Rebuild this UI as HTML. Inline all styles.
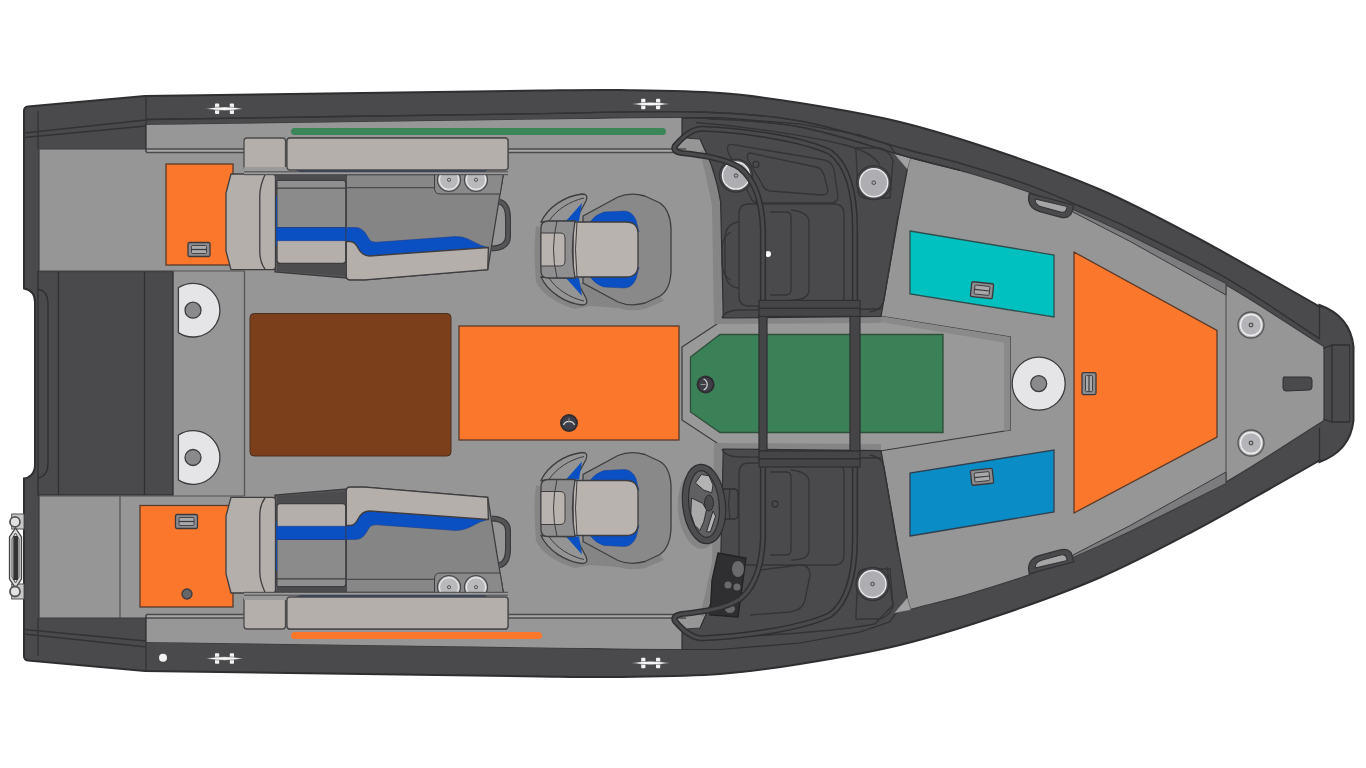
<!DOCTYPE html>
<html><head><meta charset="utf-8"><style>
html,body{margin:0;padding:0;background:#fff;width:1366px;height:768px;overflow:hidden;font-family:"Liberation Sans",sans-serif;}
svg{display:block}
</style></head><body><svg width="1366" height="768" viewBox="0 0 1366 768"><rect width="1366" height="768" fill="#fff"/><path d="M24,111 Q24,107 28,106.5 L145,96 C276.7,94.2 408.3,92.2 540.0,90.5 C566.7,90.2 593.3,89.6 620.0,90.0 C653.3,90.5 686.8,90.6 720.0,93.0 C746.8,94.9 773.5,98.7 800.0,103.0 C833.5,108.4 867.1,113.9 900.0,122.0 C933.8,130.3 967.0,140.9 1000.0,152.0 C1033.7,163.4 1067.4,175.4 1100.0,189.5 C1130.7,202.7 1160.4,218.4 1190.0,234.0 C1220.4,249.9 1250.1,267.2 1280.0,284.0 C1293.2,291.4 1306.3,299.0 1319.5,306.5 L1319.5,305 C1336,311 1351,323 1353.5,346.5 L1353.5,420.5 C1351,444 1336,456 1319.5,462 L1319.5,460.5 C1306.3,468.0 1293.2,475.6 1280.0,483.0 C1250.1,499.8 1220.4,517.1 1190.0,533.0 C1160.4,548.6 1130.7,564.3 1100.0,577.5 C1067.4,591.6 1033.7,603.6 1000.0,615.0 C967.0,626.1 933.8,636.7 900.0,645.0 C867.1,653.1 833.5,658.6 800.0,664.0 C773.5,668.3 746.8,672.1 720.0,674.0 C686.8,676.4 653.3,676.5 620.0,677.0 C593.3,677.4 566.7,676.8 540.0,676.5 C408.3,674.8 276.7,672.8 145.0,671.0 L28,660.5 Q24,660 24,656 L24,478.5 C29,478 35,474 35,465 L35,302 C35,293 29,289.5 24,288.5 Z" fill="#4a494c" stroke="#2f2e31" stroke-width="2"/>
<path d="M39,149 L146,149 L146,125 C277.3,123.2 408.7,121.2 540.0,119.5 C593.3,118.8 646.7,116.5 700.0,118.0 C733.4,119.0 767.2,120.8 800.0,127.0 C837.9,134.2 874.6,147.9 912.0,158.0 C927.9,162.3 944.1,165.8 960.0,170.4 C983.5,177.3 1007.1,184.0 1030.0,192.5 C1053.7,201.2 1076.7,212.0 1100.0,222.0 C1110.1,226.3 1120.2,230.7 1130.0,235.6 C1162.2,251.7 1194.8,267.1 1226.0,285.0 C1259.5,304.1 1291.3,326.1 1324.0,346.6 L1324,420.4 C1291.3,440.9 1259.5,462.9 1226.0,482.0 C1194.8,499.9 1162.2,515.3 1130.0,531.4 C1120.2,536.3 1110.1,540.7 1100.0,545.0 C1076.7,555.0 1053.7,565.8 1030.0,574.5 C1007.1,583.0 983.5,589.7 960.0,596.6 C944.1,601.2 927.9,604.7 912.0,609.0 C874.6,619.1 837.9,632.8 800.0,640.0 C767.2,646.2 733.4,648.0 700.0,649.0 C646.7,650.5 593.3,648.2 540.0,647.5 C408.7,645.8 277.3,643.8 146.0,642.0 L146,618 L39,618 Z" fill="#969696" stroke="#3a393c" stroke-width="1.2"/>
<path d="M146,125 L540,119.5 L682,118 L682,149 L146,149 Z" fill="#979797"/>
<path d="M146,642 L540,647.5 L682,649 L682,618 L146,618 Z" fill="#979797"/>
<rect x="146" y="149" width="540" height="3.5" fill="#a8a8a8"/><rect x="146" y="614.5" width="540" height="3.5" fill="#a8a8a8"/>
<line x1="146" y1="149" x2="686" y2="149" stroke="#4a494c" stroke-width="1.3"/>
<line x1="146" y1="152.5" x2="686" y2="152.5" stroke="#4a494c" stroke-width="1.3"/>
<line x1="146" y1="614.5" x2="686" y2="614.5" stroke="#4a494c" stroke-width="1.3"/>
<line x1="146" y1="618" x2="686" y2="618" stroke="#4a494c" stroke-width="1.3"/>
<path d="M24,133 L146,120 M24,137.5 L146,126 M38,111 L38,149 M24,634 L146,647 M24,629.5 L146,641 M38,656 L38,618" fill="none" stroke="#333235" stroke-width="1.3"/>
<line x1="146" y1="96" x2="146" y2="152" stroke="#333235" stroke-width="1.3"/>
<line x1="146" y1="671" x2="146" y2="615" stroke="#333235" stroke-width="1.3"/>
<rect x="38" y="271.5" width="135" height="223.5" fill="#4a494c" stroke="#2f2e31" stroke-width="1.3"/>
<path d="M58.5,271.5 V495 M144.5,271.5 V495" stroke="#2f2e31" stroke-width="1.3"/>
<path d="M38,289 Q48,291 48,303 L48,463 Q48,476 38,478" fill="none" stroke="#2f2e31" stroke-width="1.3"/>
<path d="M244.5,271 V496 M120,496 V618" stroke="#555457" stroke-width="1.3"/>
<path d="M39,271 H244.5 M39,496 H244.5" stroke="#555457" stroke-width="1"/>
<path d="M178.4,287.8 A26.8,26.8 0 1 1 178.4,332.59999999999997 Z" fill="#e5e5e7" stroke="#3d3c3f" stroke-width="1.3"/>
<circle cx="193" cy="310.2" r="8" fill="#8a8a8c" stroke="#3d3c3f" stroke-width="1.3"/>
<path d="M178.4,435.1 A26.8,26.8 0 1 1 178.4,479.9 Z" fill="#e5e5e7" stroke="#3d3c3f" stroke-width="1.3"/>
<circle cx="193" cy="457.5" r="8" fill="#8a8a8c" stroke="#3d3c3f" stroke-width="1.3"/>
<rect x="166" y="164" width="67" height="101" fill="#fb772b" stroke="#5a3a2a" stroke-width="1.3"/>
<rect x="140" y="505.5" width="93" height="101.5" fill="#fb772b" stroke="#5a3a2a" stroke-width="1.3"/>
<g transform="translate(199,249.5) rotate(0)"><rect x="-11.0" y="-7.0" width="22" height="14" rx="1.5" fill="#8c8c90" stroke="#3a393c" stroke-width="1.3"/><rect x="-7.5" y="-4.0" width="15" height="8" rx="1" fill="#a9a9ab" stroke="#3a393c" stroke-width="0.9"/><path d="M-7.5,0 H7.5" stroke="#3a393c" stroke-width="1.2"/></g>
<g transform="translate(186.5,521.5) rotate(0)"><rect x="-11.0" y="-7.0" width="22" height="14" rx="1.5" fill="#8c8c90" stroke="#3a393c" stroke-width="1.3"/><rect x="-7.5" y="-4.0" width="15" height="8" rx="1" fill="#a9a9ab" stroke="#3a393c" stroke-width="0.9"/><path d="M-7.5,0 H7.5" stroke="#3a393c" stroke-width="1.2"/></g>
<circle cx="187" cy="594" r="5" fill="#666568" stroke="#3d3c3f" stroke-width="1.3"/>
<rect x="291" y="128" width="375" height="7" rx="3.5" fill="#3c8559"/>
<rect x="291" y="632" width="251" height="7" rx="3.5" fill="#fb772b"/>
<rect x="250" y="313.5" width="201" height="142.5" rx="4" fill="#7b3f1c" stroke="#4a3020" stroke-width="1"/>
<rect x="459" y="326" width="220" height="114" fill="#fb772b" stroke="#5a3a2a" stroke-width="1.3"/>
<circle cx="569" cy="423" r="9" fill="#2e2d31"/><circle cx="569" cy="423" r="7" fill="#3f3f48"/><path d="M563.5,425 A6,6 0 0 1 574.5,425" fill="none" stroke="#d8d8d8" stroke-width="1.2"/><path d="M569,418 V423" stroke="#888" stroke-width="1"/>
<path d="M682.0,347.0 L724.5,319.0 L880.0,316.0 L1010.4,337.0 L1010.4,430.0 L880.0,451.0 L724.5,448.0 L682.0,420.0 Z" fill="#999999" stroke="#3a393c" stroke-width="1.2"/>
<path d="M880,316 L1010.4,337 L1010.4,430 L1004,431 L1004,342.5 L880,322 Z" fill="#8a8a8b"/>
<path d="M690.5,357.0 L720.0,334.5 L943.0,334.5 L943.0,432.5 L720.0,432.5 L690.5,412.0 Z" fill="#3b8157" stroke="#2f4f3a" stroke-width="1.3"/>
<circle cx="705.6" cy="384.5" r="9" fill="#2e2d31"/><circle cx="705.6" cy="384.5" r="7" fill="#3f3f48"/><path d="M703.6,379 A6,6 0 0 1 703.6,390" fill="none" stroke="#d8d8d8" stroke-width="1.2"/><path d="M700.6,384.5 H705.6" stroke="#999" stroke-width="1"/>
<path d="M910.0,231.0 L1054.0,255.0 L1054.0,317.0 L910.0,294.0 Z" fill="#00c1bf" stroke="#2f4f4f" stroke-width="1.3"/>
<path d="M910.0,536.0 L1054.0,512.0 L1054.0,450.0 L910.0,473.0 Z" fill="#0a8dc6" stroke="#2f3f4f" stroke-width="1.3"/>
<g transform="translate(982,290.2) rotate(6)"><rect x="-11.0" y="-7.5" width="22" height="15" rx="1.5" fill="#8c8c90" stroke="#3a393c" stroke-width="1.3"/><rect x="-7.5" y="-4.5" width="15" height="9" rx="1" fill="#a9a9ab" stroke="#3a393c" stroke-width="0.9"/><path d="M-7.5,0 H7.5" stroke="#3a393c" stroke-width="1.2"/></g>
<g transform="translate(982,476.8) rotate(-6)"><rect x="-11.0" y="-7.5" width="22" height="15" rx="1.5" fill="#8c8c90" stroke="#3a393c" stroke-width="1.3"/><rect x="-7.5" y="-4.5" width="15" height="9" rx="1" fill="#a9a9ab" stroke="#3a393c" stroke-width="0.9"/><path d="M-7.5,0 H7.5" stroke="#3a393c" stroke-width="1.2"/></g>
<path d="M1074.0,252.0 L1217.0,330.5 L1217.0,437.0 L1074.0,513.0 Z" fill="#fb772b" stroke="#5a3a2a" stroke-width="1.3"/>
<g transform="translate(1089,383.6) rotate(0)"><rect x="-7.0" y="-11.0" width="14" height="22" rx="1.5" fill="#8c8c90" stroke="#3a393c" stroke-width="1.3"/><rect x="-3.5" y="-8.0" width="7" height="16" rx="1" fill="#a9a9ab" stroke="#3a393c" stroke-width="0.9"/><path d="M0,-8.0 V8.0" stroke="#3a393c" stroke-width="1.2"/></g>
<circle cx="1038.7" cy="383.6" r="26.5" fill="#e5e5e7" stroke="#3d3c3f" stroke-width="1.3"/><circle cx="1038.7" cy="383.6" r="8" fill="#8a8a8c" stroke="#3d3c3f" stroke-width="1.3"/>
<line x1="1226" y1="286" x2="1226" y2="481" stroke="#555457" stroke-width="1.2"/>
<circle cx="1251" cy="325" r="13" fill="#b5b5b9" stroke="#555" stroke-width="1.3"/><circle cx="1251" cy="325" r="10.5" fill="none" stroke="#eee" stroke-width="1.3"/><circle cx="1251" cy="325" r="1.8" fill="none" stroke="#555" stroke-width="1.3"/>
<circle cx="1251" cy="443" r="13" fill="#b5b5b9" stroke="#555" stroke-width="1.3"/><circle cx="1251" cy="443" r="10.5" fill="none" stroke="#eee" stroke-width="1.3"/><circle cx="1251" cy="443" r="1.8" fill="none" stroke="#555" stroke-width="1.3"/>
<path d="M1285,377 Q1283,376 1283,379 L1283,388 Q1283,391 1286,391 L1309,390 Q1312,390 1312,387 L1312,380 Q1312,377 1309,377 Z" fill="#4a494c" stroke="#2f2e31"/>
<g transform="translate(224.5,108.7)"><rect x="-9.5" y="-5.2" width="4.2" height="10.4" rx="0.8" fill="#f2f2f2"/><rect x="5.3" y="-5.2" width="4.2" height="10.4" rx="0.8" fill="#f2f2f2"/><path d="M-19,0 Q0,-3.6 19,0 Q0,3.6 -19,0 Z" fill="#f6f6f6" stroke="#48474a" stroke-width="0.5"/></g>
<g transform="translate(650.7,104)"><rect x="-9.5" y="-5.2" width="4.2" height="10.4" rx="0.8" fill="#f2f2f2"/><rect x="5.3" y="-5.2" width="4.2" height="10.4" rx="0.8" fill="#f2f2f2"/><path d="M-19,0 Q0,-3.6 19,0 Q0,3.6 -19,0 Z" fill="#f6f6f6" stroke="#48474a" stroke-width="0.5"/></g>
<g transform="translate(224.5,658.5)"><rect x="-9.5" y="-5.2" width="4.2" height="10.4" rx="0.8" fill="#f2f2f2"/><rect x="5.3" y="-5.2" width="4.2" height="10.4" rx="0.8" fill="#f2f2f2"/><path d="M-19,0 Q0,-3.6 19,0 Q0,3.6 -19,0 Z" fill="#f6f6f6" stroke="#48474a" stroke-width="0.5"/></g>
<g transform="translate(650.7,663)"><rect x="-9.5" y="-5.2" width="4.2" height="10.4" rx="0.8" fill="#f2f2f2"/><rect x="5.3" y="-5.2" width="4.2" height="10.4" rx="0.8" fill="#f2f2f2"/><path d="M-19,0 Q0,-3.6 19,0 Q0,3.6 -19,0 Z" fill="#f6f6f6" stroke="#48474a" stroke-width="0.5"/></g>
<circle cx="163" cy="657.7" r="4" fill="#f4f4f4"/>
<g id="seatT"><rect x="244" y="138" width="41.5" height="32" rx="3" fill="#b4afaa" stroke="#4a494c" stroke-width="1.3"/><rect x="287" y="138" width="221" height="32" rx="3" fill="#b4afaa" stroke="#4a494c" stroke-width="1.3"/><path d="M290,168 L490,168 L485,172 L300,172 Z" fill="#1e3f72"/><path d="M275,175 L347,175 L347,278 L275,272 Z" fill="#5c5b5e" stroke="#3a393c" stroke-width="1.3"/><path d="M277,175 H345 V181 H277 Z M277,263 H345 V276 L277,271 Z" fill="#4c4b4e"/><rect x="277" y="180.3" width="68.8" height="83" rx="3" fill="#b4afaa" stroke="#3e3d40" stroke-width="1.3"/><path d="M277,188 H345.8 V227.5 H277 Z" fill="#8b8b8c" stroke="#3e3d40" stroke-width="1"/><path d="M277,180.5 H343 Q345.8,180.5 345.8,183.5 V188 H277 Z" fill="#8f8f90" stroke="#3e3d40" stroke-width="1"/><rect x="277" y="227.5" width="68.8" height="13.3" fill="#0b50c2" stroke="#23408a" stroke-width="0.6"/><path d="M277,196 L271,200 Q269,220 271,242 L277,246 Z" fill="#0b50c2"/><path d="M231,174 L272.5,174 Q275.5,174 275.5,177 L275.5,266.7 Q275.5,269.7 272.5,269.7 L231,269.7 L226,251 L226,193 Z" fill="#b4afaa" stroke="#3e3d40" stroke-width="1.3"/><path d="M265.3,174 Q259.8,186 259.8,195 L259.8,252 Q259.8,262 265.3,269.7" fill="none" stroke="#3e3d40" stroke-width="1.3"/><path d="M346.3,174 L503.3,174 L487.7,269.7 L365,279.8 L350,279.8 Q346.3,279.8 346.3,276 Z" fill="#858586" stroke="#3e3d40" stroke-width="1.3"/><path d="M346.3,174.7 H503.3 L501.2,187.7 H346.3 Z" fill="#878788" stroke="#3e3d40" stroke-width="1"/><path d="M434.5,174 H503.3 L500.2,194 H440 Q434.5,194 434.5,188 Z" fill="#8a8a8b" stroke="#3e3d40" stroke-width="1"/><circle cx="449" cy="179.8" r="11.5" fill="#c9c9cc" stroke="#4a494c" stroke-width="1.3"/><circle cx="449" cy="179.8" r="9.5" fill="#b9b9bc" stroke="#f0f0f0" stroke-width="1"/><circle cx="449" cy="179.8" r="1.6" fill="none" stroke="#555" stroke-width="1"/><circle cx="476" cy="179.8" r="11.5" fill="#c9c9cc" stroke="#4a494c" stroke-width="1.3"/><circle cx="476" cy="179.8" r="9.5" fill="#b9b9bc" stroke="#f0f0f0" stroke-width="1"/><circle cx="476" cy="179.8" r="1.6" fill="none" stroke="#555" stroke-width="1"/><rect x="244" y="167" width="264" height="7.7" fill="#9a9a9a" stroke="none"/><path d="M290,168 L490,168 L485,172 L300,172 Z" fill="#1e3f72"/><rect x="287" y="138" width="221" height="32" rx="3" fill="#b4afaa" stroke="#4a494c" stroke-width="1.3"/><path d="M244,171.8 H508 M244,174.7 H508" stroke="#4a494c" stroke-width="1"/><path d="M346.3,227.5 L355.6,227.5 Q362,227.5 366,234 L369,239 Q371,242.3 376,242.3 L455,236.6 Q462,236.3 468,239 L481,245.5 L488.4,247.5 L369.7,256 Q362,256 358,248 Q355,241.5 350,241.5 L346.3,241.5 Z" fill="#0b50c2" stroke="#23408a" stroke-width="0.6"/><path d="M346.3,241.5 L350,241.5 Q355,241.5 358,248 Q362,256 369.7,256 L488.4,247.5 L487.7,269.7 L365,279.8 L350,279.8 Q346.3,279.8 346.3,276 Z" fill="#b4afaa" stroke="#3e3d40" stroke-width="1.3"/><path d="M499.4,201.7 Q508,204 508,218 L508,236 Q508,248 491.6,248.6" fill="none" stroke="#3a393c" stroke-width="6"/><path d="M499.4,201.7 Q508,204 508,218 L508,236 Q508,248 491.6,248.6" fill="none" stroke="#555457" stroke-width="3.5"/></g>
<g transform="matrix(1,0,0,-1,0,767)"><rect x="244" y="138" width="41.5" height="32" rx="3" fill="#b4afaa" stroke="#4a494c" stroke-width="1.3"/><rect x="287" y="138" width="221" height="32" rx="3" fill="#b4afaa" stroke="#4a494c" stroke-width="1.3"/><path d="M290,168 L490,168 L485,172 L300,172 Z" fill="#1e3f72"/><path d="M275,175 L347,175 L347,278 L275,272 Z" fill="#5c5b5e" stroke="#3a393c" stroke-width="1.3"/><path d="M277,175 H345 V181 H277 Z M277,263 H345 V276 L277,271 Z" fill="#4c4b4e"/><rect x="277" y="180.3" width="68.8" height="83" rx="3" fill="#b4afaa" stroke="#3e3d40" stroke-width="1.3"/><path d="M277,188 H345.8 V227.5 H277 Z" fill="#8b8b8c" stroke="#3e3d40" stroke-width="1"/><path d="M277,180.5 H343 Q345.8,180.5 345.8,183.5 V188 H277 Z" fill="#8f8f90" stroke="#3e3d40" stroke-width="1"/><rect x="277" y="227.5" width="68.8" height="13.3" fill="#0b50c2" stroke="#23408a" stroke-width="0.6"/><path d="M277,196 L271,200 Q269,220 271,242 L277,246 Z" fill="#0b50c2"/><path d="M231,174 L272.5,174 Q275.5,174 275.5,177 L275.5,266.7 Q275.5,269.7 272.5,269.7 L231,269.7 L226,251 L226,193 Z" fill="#b4afaa" stroke="#3e3d40" stroke-width="1.3"/><path d="M265.3,174 Q259.8,186 259.8,195 L259.8,252 Q259.8,262 265.3,269.7" fill="none" stroke="#3e3d40" stroke-width="1.3"/><path d="M346.3,174 L503.3,174 L487.7,269.7 L365,279.8 L350,279.8 Q346.3,279.8 346.3,276 Z" fill="#858586" stroke="#3e3d40" stroke-width="1.3"/><path d="M346.3,174.7 H503.3 L501.2,187.7 H346.3 Z" fill="#878788" stroke="#3e3d40" stroke-width="1"/><path d="M434.5,174 H503.3 L500.2,194 H440 Q434.5,194 434.5,188 Z" fill="#8a8a8b" stroke="#3e3d40" stroke-width="1"/><circle cx="449" cy="179.8" r="11.5" fill="#c9c9cc" stroke="#4a494c" stroke-width="1.3"/><circle cx="449" cy="179.8" r="9.5" fill="#b9b9bc" stroke="#f0f0f0" stroke-width="1"/><circle cx="449" cy="179.8" r="1.6" fill="none" stroke="#555" stroke-width="1"/><circle cx="476" cy="179.8" r="11.5" fill="#c9c9cc" stroke="#4a494c" stroke-width="1.3"/><circle cx="476" cy="179.8" r="9.5" fill="#b9b9bc" stroke="#f0f0f0" stroke-width="1"/><circle cx="476" cy="179.8" r="1.6" fill="none" stroke="#555" stroke-width="1"/><rect x="244" y="167" width="264" height="7.7" fill="#9a9a9a" stroke="none"/><path d="M290,168 L490,168 L485,172 L300,172 Z" fill="#1e3f72"/><rect x="287" y="138" width="221" height="32" rx="3" fill="#b4afaa" stroke="#4a494c" stroke-width="1.3"/><path d="M244,171.8 H508 M244,174.7 H508" stroke="#4a494c" stroke-width="1"/><path d="M346.3,227.5 L355.6,227.5 Q362,227.5 366,234 L369,239 Q371,242.3 376,242.3 L455,236.6 Q462,236.3 468,239 L481,245.5 L488.4,247.5 L369.7,256 Q362,256 358,248 Q355,241.5 350,241.5 L346.3,241.5 Z" fill="#0b50c2" stroke="#23408a" stroke-width="0.6"/><path d="M346.3,241.5 L350,241.5 Q355,241.5 358,248 Q362,256 369.7,256 L488.4,247.5 L487.7,269.7 L365,279.8 L350,279.8 Q346.3,279.8 346.3,276 Z" fill="#b4afaa" stroke="#3e3d40" stroke-width="1.3"/><path d="M499.4,201.7 Q508,204 508,218 L508,236 Q508,248 491.6,248.6" fill="none" stroke="#3a393c" stroke-width="6"/><path d="M499.4,201.7 Q508,204 508,218 L508,236 Q508,248 491.6,248.6" fill="none" stroke="#555457" stroke-width="3.5"/></g>
<g fill="#858586"><path d="M536,226 Q533,249 536,282 Q545,300 575,309 L590,306 L583,283 L548,278 Q541,278 541,271 L541,228 Z"/><path d="M583,283 L618,302 Q630,307 645,303 L660,296 L664,301 L645,309 Q630,312 618,308 L590,306 Z"/></g>
<g><path d="M583,216 L618,197 Q630,192 645,196 L660,203 Q670,210 671,228 L671,272 Q670,290 660,296 L645,303 Q630,307 618,302 L583,283 Z" fill="#89898a" stroke="#3e3d40" stroke-width="1.3"/><path d="M590,222 Q596,214 604,212 L624,211 Q632,211 636,220 L639,232 Q636,223 626,222 Z" fill="#0b50c2" stroke="#23408a" stroke-width="0.5"/><path d="M590,277 Q596,285 604,287 L624,288 Q632,288 636,279 L639,267 Q636,276 626,277 Z" fill="#0b50c2" stroke="#23408a" stroke-width="0.5"/><path d="M573,222 L626,222 Q638,222 638,234 L638,265 Q638,277 626,277 L573,277 Z" fill="#b8b3ae" stroke="#3e3d40" stroke-width="1.3"/><path d="M577,222 Q574,249 577,277" fill="none" stroke="#3e3d40" stroke-width="1"/><path d="M541,222 C548,207 565,196 582,194 Q589,194 586,201 L580,212 Q572,216 567,221 Z" fill="#949495" stroke="#3e3d40" stroke-width="1.3"/><path d="M566,221 L582,203 L579,221 Z" fill="#0b50c2"/><path d="M549,221 C556,210 570,201 584,198" fill="none" stroke="#3e3d40" stroke-width="1"/><g transform="matrix(1,0,0,-1,0,499)"><path d="M541,222 C548,207 565,196 582,194 Q589,194 586,201 L580,212 Q572,216 567,221 Z" fill="#949495" stroke="#3e3d40" stroke-width="1.3"/><path d="M566,221 L582,203 L579,221 Z" fill="#0b50c2"/><path d="M549,221 C556,210 570,201 584,198" fill="none" stroke="#3e3d40" stroke-width="1"/></g><path d="M548,221 L575,221 Q570,249 575,278 L548,278 Q541,278 541,271 L541,228 Q541,221 548,221 Z" fill="#8f8f90" stroke="#3e3d40" stroke-width="1.3"/><path d="M541,233 L560,233 Q565,233 565,238 L565,261 Q565,266 560,266 L541,266 Z" fill="#b8b3ae" stroke="#3e3d40" stroke-width="1"/><path d="M557,221 Q550,249 557,278" fill="none" stroke="#3e3d40" stroke-width="1"/></g>
<g transform="translate(0,258.9)"><g fill="#858586"><path d="M536,226 Q533,249 536,282 Q545,300 575,309 L590,306 L583,283 L548,278 Q541,278 541,271 L541,228 Z"/><path d="M583,283 L618,302 Q630,307 645,303 L660,296 L664,301 L645,309 Q630,312 618,308 L590,306 Z"/></g></g>
<g transform="matrix(1,0,0,-1,0,757.5)"><path d="M583,216 L618,197 Q630,192 645,196 L660,203 Q670,210 671,228 L671,272 Q670,290 660,296 L645,303 Q630,307 618,302 L583,283 Z" fill="#89898a" stroke="#3e3d40" stroke-width="1.3"/><path d="M590,222 Q596,214 604,212 L624,211 Q632,211 636,220 L639,232 Q636,223 626,222 Z" fill="#0b50c2" stroke="#23408a" stroke-width="0.5"/><path d="M590,277 Q596,285 604,287 L624,288 Q632,288 636,279 L639,267 Q636,276 626,277 Z" fill="#0b50c2" stroke="#23408a" stroke-width="0.5"/><path d="M573,222 L626,222 Q638,222 638,234 L638,265 Q638,277 626,277 L573,277 Z" fill="#b8b3ae" stroke="#3e3d40" stroke-width="1.3"/><path d="M577,222 Q574,249 577,277" fill="none" stroke="#3e3d40" stroke-width="1"/><path d="M541,222 C548,207 565,196 582,194 Q589,194 586,201 L580,212 Q572,216 567,221 Z" fill="#949495" stroke="#3e3d40" stroke-width="1.3"/><path d="M566,221 L582,203 L579,221 Z" fill="#0b50c2"/><path d="M549,221 C556,210 570,201 584,198" fill="none" stroke="#3e3d40" stroke-width="1"/><g transform="matrix(1,0,0,-1,0,499)"><path d="M541,222 C548,207 565,196 582,194 Q589,194 586,201 L580,212 Q572,216 567,221 Z" fill="#949495" stroke="#3e3d40" stroke-width="1.3"/><path d="M566,221 L582,203 L579,221 Z" fill="#0b50c2"/><path d="M549,221 C556,210 570,201 584,198" fill="none" stroke="#3e3d40" stroke-width="1"/></g><path d="M548,221 L575,221 Q570,249 575,278 L548,278 Q541,278 541,271 L541,228 Q541,221 548,221 Z" fill="#8f8f90" stroke="#3e3d40" stroke-width="1.3"/><path d="M541,233 L560,233 Q565,233 565,238 L565,261 Q565,266 560,266 L541,266 Z" fill="#b8b3ae" stroke="#3e3d40" stroke-width="1"/><path d="M557,221 Q550,249 557,278" fill="none" stroke="#3e3d40" stroke-width="1"/></g>
<path d="M703,150 L711,164 L720.6,202 L723.3,318 L881,316.3 L881,323 L714,324 L712,205 L705,172 L700,152 Z" fill="#858586"/>
<path d="M703,150 L711,164 L720.6,202 L723.3,318 L881,316.3 L881,323 L714,324 L712,205 L705,172 L700,152 Z" fill="#858586" transform="matrix(1,0,0,-1,0,767)"/>
<path d="M682,117.5 L682,136 Q684,138.5 700,139 L711,164 Q718,185 720.6,202 L723.3,318 L881,316.3 L898.6,216 L907.3,169.4 L889.4,145 L860,135 L800,124 L720,117.5 Z" fill="#4a494c" stroke="#2f2e31" stroke-width="1.2"/>
<path d="M894,153.75 L911,157 L907.3,169.4 Z" fill="#a1a1a1" stroke="#555" stroke-width="0.6"/>
<path d="M682,117.5 L682,136 Q684,138.5 700,139 L711,164 Q718,185 720.6,202 L723.3,318 L881,316.3 L898.6,216 L907.3,169.4 L889.4,145 L860,135 L800,124 L720,117.5 Z" fill="#4a494c" stroke="#2f2e31" stroke-width="1.2" transform="matrix(1,0,0,-1,0,767)"/>
<path d="M894,153.75 L911,157 L907.3,169.4 Z" fill="#a1a1a1" stroke="#555" stroke-width="0.6" transform="matrix(1,0,0,-1,0,767)"/>
<path d="M696,122.5 C740,126 800,134 845,145 Q872,152 880,165" fill="none" stroke="#343336" stroke-width="1.3"/>
<path d="M731.6,144.4 L824.6,160 Q832,162 834,170 L838,196 Q838,203 830,203 L760,203 Q752,203 750,196 L728,152 Q726,144 731.6,144.4 Z" fill="none" stroke="#343336" stroke-width="1.3"/>
<path d="M750,153 L816,167 Q822,168 824,175 L828,190 Q828,195 822,195 L770,191 Q764,190 762,184 L748,160 Q746,153 750,153 Z" fill="none" stroke="#343336" stroke-width="1.3"/>
<path d="M753,164.4 A3,3 0 1 1 759,164.4 A3,3 0 1 1 753,164.4 Z" fill="none" stroke="#343336" stroke-width="1.3"/>
<path d="M860,148 Q855,146 856,152 L858,192 Q859,198 865,198 L890,198 L893,160 Q888,150 880,148 Z" fill="none" stroke="#343336" stroke-width="1.3"/>
<path d="M749,204 H834 Q844,204 844,214 V296 Q844,306 834,306 H749 Q739,306 739,296 V214 Q739,204 749,204 Z" fill="none" stroke="#343336" stroke-width="1.3"/>
<path d="M770,212 H786 Q791,212 791,217 V290 Q791,295 786,295 H770" fill="none" stroke="#343336" stroke-width="1.3"/>
<path d="M791,210 Q809,212 809,222 V290 Q809,300 791,300" fill="none" stroke="#343336" stroke-width="1.3"/>
<path d="M738,222 Q725,224 725,240 V270 Q725,286 738,288" fill="none" stroke="#343336" stroke-width="1.3"/>
<path d="M731,232 Q722,236 722,250 V262 Q722,276 731,280" fill="none" stroke="#343336" stroke-width="1.3"/>
<path d="M722,318 Q725,310 740,310 L881,309" fill="none" stroke="#343336" stroke-width="1.3"/>
<path d="M898,216 L884,300 Q882,310 870,312" fill="none" stroke="#343336" stroke-width="1.3"/>
<circle cx="736" cy="175.6" r="16.5" fill="#4a494c" stroke="#343336" stroke-width="1.3"/>
<circle cx="736" cy="175.6" r="13.5" fill="#aeadb2" stroke="#e8e8ea" stroke-width="1.5"/>
<circle cx="736" cy="175.6" r="1.8" fill="none" stroke="#444" stroke-width="1"/>
<circle cx="873.75" cy="182.7" r="17" fill="#4a494c" stroke="#343336" stroke-width="1.3"/>
<circle cx="873.75" cy="182.7" r="14" fill="#aeadb2" stroke="#e8e8ea" stroke-width="1.5"/>
<circle cx="873.75" cy="182.7" r="1.8" fill="none" stroke="#444" stroke-width="1"/>
<circle cx="768" cy="254" r="3" fill="#fff"/>
<path d="M712,638 C760,636 830,632 875,624 L893,605 L887,567" fill="none" stroke="#343336" stroke-width="1.3"/>
<path d="M749,463 H834 Q844,463 844,473 V555 Q844,565 834,565 H749 Q739,565 739,555 V473 Q739,463 749,463 Z" fill="none" stroke="#343336" stroke-width="1.3"/>
<path d="M770,472 H786 Q791,472 791,477 V550 Q791,555 786,555 H770" fill="none" stroke="#343336" stroke-width="1.3"/>
<path d="M791,470 Q809,472 809,482 V550 Q809,560 791,560" fill="none" stroke="#343336" stroke-width="1.3"/>
<path d="M860,619 Q855,621 856,615 L858,575 Q859,569 865,569 L890,569 L893,607 Q888,617 880,619 Z" fill="none" stroke="#343336" stroke-width="1.3"/>
<path d="M722,449 Q725,457 740,457 L881,458" fill="none" stroke="#343336" stroke-width="1.3"/>
<path d="M898,551 L884,467 Q882,457 870,455" fill="none" stroke="#343336" stroke-width="1.3"/>
<path d="M760,570 L800,565 Q810,565 810,575 L805,600 Q803,610 790,612 L750,615" fill="none" stroke="#343336" stroke-width="1.3"/>
<circle cx="872.5" cy="584" r="16.5" fill="#4a494c" stroke="#343336" stroke-width="1.3"/><circle cx="872.5" cy="584" r="13.5" fill="#aeadb2" stroke="#e8e8ea" stroke-width="1.5"/><circle cx="872.5" cy="584" r="1.8" fill="none" stroke="#444" stroke-width="1"/>
<circle cx="775" cy="504" r="3" fill="none" stroke="#343336" stroke-width="1.3"/>
<path d="M718,553 L746,558 L738,617 L710,615 L712,580 Z" fill="#2f2e31" stroke="#222" stroke-width="1.3"/>
<ellipse cx="738" cy="569" rx="6" ry="8" fill="#6a696c"/><circle cx="728" cy="585" r="3.5" fill="#6a696c"/><circle cx="737" cy="587" r="3.5" fill="#6a696c"/><ellipse cx="730" cy="609" rx="5" ry="4" fill="#6a696c"/>
<ellipse cx="699" cy="510" rx="21" ry="39" fill="#858586" transform="rotate(-6 699 510)"/>
<path d="M722,489 L734,489 Q738,489 738,493 L738,515 Q738,519 734,519 L722,519 Z" fill="#4a494c" stroke="#2f2e31" stroke-width="1.3"/>
<path d="M730,489 Q727,504 730,519" fill="none" stroke="#2f2e31" stroke-width="1"/>
<ellipse cx="704" cy="504" rx="18" ry="36.5" fill="#606063" transform="rotate(-6 704 504)"/>
<path d="M695.4,483 L701.25,474.5 L709,475.8 L713,485 L711.7,492.8 L703.9,490.2 Z" fill="#b3b3b3" stroke="#2f2e31" stroke-width="1" stroke-linejoin="round"/>
<path d="M691.5,498 L702.5,503.2 L706.5,509.7 L703.9,521.4 L700,530.5 L694.7,525.3 L690.8,513.6 Z" fill="#a9a9a9" stroke="#2f2e31" stroke-width="1" stroke-linejoin="round"/>
<path d="M713,511 L715.6,516.2 L710.4,531.8 L706.5,531.8 Z" fill="#b3b3b3" stroke="#2f2e31" stroke-width="1" stroke-linejoin="round"/>
<ellipse cx="709" cy="503" rx="4.5" ry="8" fill="#4a494c" stroke="#2f2e31" stroke-width="1"/>
<ellipse cx="704" cy="504" rx="18.2" ry="36.7" fill="none" stroke="#2f2e31" stroke-width="7.5" transform="rotate(-6 704 504)"/>
<ellipse cx="704" cy="504" rx="18.2" ry="36.7" fill="none" stroke="#4d4c4f" stroke-width="5" transform="rotate(-6 704 504)"/>
<path d="M855,318 L855,230 C855,195 848,165 830,152 C800,138 740,130 702.5,128.75 C690,128.5 680,140 675,146 C673,150 676,152 682,153 C700,155 725,158 740,168 C755,180 762,200 763,230 L763,318" fill="none" stroke="#2f2e31" stroke-width="6.2"/>
<path d="M855,318 L855,230 C855,195 848,165 830,152 C800,138 740,130 702.5,128.75 C690,128.5 680,140 675,146 C673,150 676,152 682,153 C700,155 725,158 740,168 C755,180 762,200 763,230 L763,318" fill="none" stroke="#4a494c" stroke-width="3.2"/>
<path d="M855,318 L855,230 C855,195 848,165 830,152 C800,138 740,130 702.5,128.75 C690,128.5 680,140 675,146 C673,150 676,152 682,153 C700,155 725,158 740,168 C755,180 762,200 763,230 L763,318" fill="none" stroke="#2f2e31" stroke-width="6.2" transform="matrix(1,0,0,-1,0,767)"/>
<path d="M855,318 L855,230 C855,195 848,165 830,152 C800,138 740,130 702.5,128.75 C690,128.5 680,140 675,146 C673,150 676,152 682,153 C700,155 725,158 740,168 C755,180 762,200 763,230 L763,318" fill="none" stroke="#4a494c" stroke-width="3.2" transform="matrix(1,0,0,-1,0,767)"/>
<rect x="759.0" y="316" width="8" height="135" fill="#454447" stroke="#2f2e31" stroke-width="1.2"/>
<rect x="850.0" y="316" width="10" height="135" fill="#454447" stroke="#2f2e31" stroke-width="1.2"/>
<rect x="759" y="300.4" width="101" height="8" fill="#454447" stroke="#2f2e31" stroke-width="1.2"/>
<rect x="759" y="308.4" width="101" height="8" fill="#454447" stroke="#2f2e31" stroke-width="1.2"/>
<rect x="759" y="451" width="101" height="8" fill="#454447" stroke="#2f2e31" stroke-width="1.2"/>
<rect x="759" y="459" width="101" height="8" fill="#454447" stroke="#2f2e31" stroke-width="1.2"/>
<path d="M1065,206 Q1100,221 1130,235.6 L1226,283.5 L1226,295 L1130,241.4 Q1100,226 1073,212 Z" fill="#7c7c7e" stroke="#3a393c" stroke-width="1"/>
<path d="M146,119.5 C277.3,117.5 408.7,115.4 540.0,113.6 C593.3,112.9 646.7,110.5 700.0,112.0 C733.4,113.0 767.2,115.0 800.0,121.0 C837.9,128.0 874.6,141.1 912.0,151.0 C928.0,155.2 944.2,158.6 960.0,163.2 C983.5,170.1 1007.1,177.0 1030.0,185.5 C1053.7,194.3 1076.7,205.0 1100.0,215.0 C1110.1,219.3 1120.2,223.7 1130.0,228.6 C1162.2,244.7 1194.9,259.9 1226.0,278.0 C1258.3,296.7 1288.7,318.7 1320.0,339.0" fill="none" stroke="#333235" stroke-width="1.3"{tr}/>
<path d="M682,118 C688.0,118.0 694.0,117.5 700.0,118.0 C733.4,120.5 767.2,120.8 800.0,127.0 C837.9,134.2 874.6,147.9 912.0,158.0 C927.9,162.3 944.0,166.3 960.0,170.4" fill="none" stroke="#333235" stroke-width="1.3"{tr}/>
<g><g transform="translate(1050,205) rotate(15)"><path d="M-23,-6 C-23,4 -17,9 -8,9 L13,9 C19,9 23,6 23,1 L23,-6 Z" fill="#4a494c" stroke="#333235" stroke-width="1.3"/><path d="M-16,-2 C-15,2 -12,4 -7,4 L12,4 C15,4 17,3 17,0 L17,-3 Z" fill="#a5a5a5" stroke="#333235" stroke-width="1"/></g></g>
<path d="M1065,206 Q1100,221 1130,235.6 L1226,283.5 L1226,295 L1130,241.4 Q1100,226 1073,212 Z" fill="#7c7c7e" stroke="#3a393c" stroke-width="1" transform="matrix(1,0,0,-1,0,767)"/>
<path d="M146,119.5 C277.3,117.5 408.7,115.4 540.0,113.6 C593.3,112.9 646.7,110.5 700.0,112.0 C733.4,113.0 767.2,115.0 800.0,121.0 C837.9,128.0 874.6,141.1 912.0,151.0 C928.0,155.2 944.2,158.6 960.0,163.2 C983.5,170.1 1007.1,177.0 1030.0,185.5 C1053.7,194.3 1076.7,205.0 1100.0,215.0 C1110.1,219.3 1120.2,223.7 1130.0,228.6 C1162.2,244.7 1194.9,259.9 1226.0,278.0 C1258.3,296.7 1288.7,318.7 1320.0,339.0" fill="none" stroke="#333235" stroke-width="1.3"{tr}/>
<path d="M682,118 C688.0,118.0 694.0,117.5 700.0,118.0 C733.4,120.5 767.2,120.8 800.0,127.0 C837.9,134.2 874.6,147.9 912.0,158.0 C927.9,162.3 944.0,166.3 960.0,170.4" fill="none" stroke="#333235" stroke-width="1.3"{tr}/>
<g transform="matrix(1,0,0,-1,0,767)"><g transform="translate(1050,205) rotate(15)"><path d="M-23,-6 C-23,4 -17,9 -8,9 L13,9 C19,9 23,6 23,1 L23,-6 Z" fill="#4a494c" stroke="#333235" stroke-width="1.3"/><path d="M-16,-2 C-15,2 -12,4 -7,4 L12,4 C15,4 17,3 17,0 L17,-3 Z" fill="#a5a5a5" stroke="#333235" stroke-width="1"/></g></g>
<path d="M1319.5,305 L1319.5,339 M1319.5,428 L1319.5,462" fill="none" stroke="#2f2e31" stroke-width="1.2"/>
<path d="M1323.3,348.3 L1332,345 L1332,422 L1323.3,419" fill="none" stroke="#2f2e31" stroke-width="1.3"/>
<path d="M1349.8,345 L1349.8,422" fill="none" stroke="#2f2e31" stroke-width="1"/>
<path d="M1332,345 L1350,345 M1332,422 L1350,422" fill="none" stroke="#2f2e31" stroke-width="1.3"/>
<g><rect x="11.7" y="514" width="12.3" height="15" fill="#c8c8c8" stroke="#555" stroke-width="1"/><rect x="11.7" y="584" width="12.3" height="15" fill="#c8c8c8" stroke="#555" stroke-width="1"/><path d="M15.5,528 L21.5,537 L21.5,579 L15.5,588 L9.5,579 L9.5,537 Z" fill="#d8d8d8" stroke="#444" stroke-width="1.3"/><path d="M15.5,533 L19,539 L19,577 L15.5,583 L12,577 L12,539 Z" fill="none" stroke="#555" stroke-width="1"/><rect x="13.3" y="536" width="4.7" height="44" fill="#333"/><circle cx="15" cy="521.9" r="5" fill="#e2e2e2" stroke="#555" stroke-width="1.8"/><circle cx="15" cy="591.5" r="5" fill="#e2e2e2" stroke="#555" stroke-width="1.8"/></g></svg></body></html>
